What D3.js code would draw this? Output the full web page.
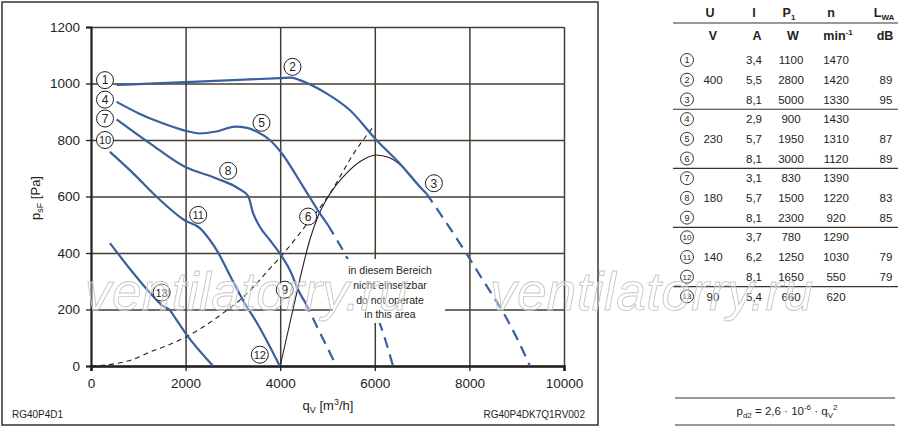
<!DOCTYPE html>
<html>
<head>
<meta charset="utf-8">
<script src="https://cdn.jsdelivr.net/npm/d3@7"></script>
<style>
  body { margin: 0; background: #fff; }
  svg { display: block; font-family: 'Liberation Sans', Arial, sans-serif; }
</style>
</head>
<body>
<div id="chart"></div>
<script>
// axis ticks
const qTicks = [0, 2000, 4000, 6000, 8000, 10000]
const pTicks = [0, 200, 400, 600, 800, 1000, 1200]

// fan curves [qV m3/h, psF Pa]
const curve123 = [[540, 995], [1000, 998], [2000, 1005], [3000, 1012], [4000, 1019], [4240, 1021], [4414, 1012], [4978, 965], [5470, 906], [6034, 800], [6526, 717], [7018, 623], [7090, 611]]
const curve123Dash = [[7090, 611], [7500, 510], [7934, 399], [8300, 300], [8640, 211], [9000, 100], [9280, 0]]
const curve456 = [[540, 935], [1000, 895], [1500, 860], [1950, 835], [2300, 823], [2650, 830], [3050, 847], [3300, 843], [3500, 830], [3780, 800], [4000, 760], [4485, 635], [4836, 541], [5010, 499]]
const curve456Dash = [[5010, 499], [5435, 376], [5770, 262], [6103, 152], [6385, 0]]
const curve789 = [[540, 873], [1246, 788], [1985, 705], [2654, 664], [3100, 630], [3323, 601], [3428, 541], [3569, 493], [3780, 446], [3991, 399], [4203, 340], [4414, 258], [4520, 228]]
const curve789Dash = [[4520, 228], [4850, 115], [5188, 0]]
const curve101112 = [[400, 758], [893, 682], [1387, 599], [1985, 515], [2302, 488], [2513, 446], [2654, 411], [3000, 300], [3288, 211], [3428, 175], [3991, 0]]
const curve13 = [[400, 435], [893, 329], [1316, 246], [1500, 215], [1668, 197], [1800, 165], [2020, 111], [2583, 0]]
// system line (dashed) and operating limit (solid black)
const systemLine = [[0, 0], [500, 8], [900, 24], [1250, 50], [1600, 72], [2000, 102], [2650, 170], [3350, 265], [3780, 345], [4000, 385], [4550, 499], [5000, 597], [5600, 764], [5950, 843]]
const limitLine = [[4000, 0], [4270, 200], [4414, 306], [4625, 446], [4800, 530], [5012, 599], [5400, 682], [5700, 725], [6034, 747], [6300, 738], [6526, 714], [6900, 645]]

// circled curve markers
const markerIds = [1, 2, 3, 4, 5, 6, 7, 8, 9, 10, 11, 12, 13]
const markerQ = [296, 4260, 7250, 296, 3605, 4590, 296, 2900, 4097, 296, 2266, 3569, 1493]
const markerP = [1012, 1059, 647, 943, 861, 529, 876, 691, 270, 800, 535, 40, 260]

// table
const volts = ['', '400', '', '', '230', '', '', '180', '', '', '140', '', '90']
const amps = ['3,4', '5,5', '8,1', '2,9', '5,7', '8,1', '3,1', '5,7', '8,1', '3,7', '6,2', '8,1', '5,4']
const watts = ['1100', '2800', '5000', '900', '1950', '3000', '830', '1500', '2300', '780', '1250', '1650', '660']
const speeds = ['1470', '1420', '1330', '1430', '1310', '1120', '1390', '1220', '920', '1290', '1030', '550', '620']
const noise = ['', '89', '95', '', '87', '89', '', '83', '85', '', '79', '79', '']

const W = 900
const H = 429
const ink = '#231f20'
const blue = '#3a5f9f'
const margin = { top: 27, left: 91, right: 336, bottom: 63 }
const width = W - margin.left - margin.right
const height = H - margin.top - margin.bottom

const root = d3
  .select('#chart')
  .append('svg')
  .attr('width', W)
  .attr('height', H)

// outer frame of the chart
root
  .append('rect')
  .attr('x', 2)
  .attr('y', 2)
  .attr('width', 596)
  .attr('height', 423)
  .attr('fill', 'none')
  .attr('stroke', '#3b3328')
  .attr('stroke-width', 1.5)

const svg = root
  .append('g')
  .attr('transform', 'translate(' + margin.left + ',' + margin.top + ')')

const x = d3.scaleLinear().domain([0, 10000]).range([0, width])
const y = d3.scaleLinear().domain([0, 1200]).range([height, 0])

// grid
svg
  .append('g')
  .attr('class', 'grid')
  .call(d3.axisLeft(y).tickValues(pTicks).tickSize(-width).tickFormat(''))
  .call(g => g.select('.domain').remove())
  .selectAll('line')
  .attr('stroke', '#463d33')
  .attr('stroke-width', 1.5)
svg
  .append('g')
  .attr('class', 'grid')
  .attr('transform', 'translate(0,' + height + ')')
  .call(d3.axisBottom(x).tickValues(qTicks).tickSize(-height).tickFormat(''))
  .call(g => g.select('.domain').remove())
  .selectAll('line')
  .attr('stroke', '#463d33')
  .attr('stroke-width', 1.5)

// axes
const yAxis = svg
  .append('g')
  .call(d3.axisLeft(y).tickValues(pTicks).tickFormat(d3.format('d')).tickSize(5).tickPadding(6))
yAxis.select('.domain').attr('stroke', ink).attr('stroke-width', 2)
yAxis.selectAll('line').attr('stroke', ink).attr('stroke-width', 1.3)
yAxis.selectAll('text').attr('font-size', 13.5).attr('fill', ink).attr('font-family', null)

const xAxis = svg
  .append('g')
  .attr('transform', 'translate(0,' + height + ')')
  .call(d3.axisBottom(x).tickValues(qTicks).tickFormat(d3.format('d')).tickSize(5).tickPadding(7))
xAxis.select('.domain').attr('stroke', ink).attr('stroke-width', 2.6)
xAxis.selectAll('line').attr('stroke', ink).attr('stroke-width', 1.3)
xAxis.selectAll('text').attr('font-size', 13.5).attr('fill', ink).attr('font-family', null)

// curves
const line = d3
  .line()
  .x(d => x(d[0]))
  .y(d => y(d[1]))
  .curve(d3.curveMonotoneX)

const curves = [
  [systemLine, ink, 1.1, '5,4'],
  [limitLine, ink, 1.1, null],
  [curve123, blue, 2.2, null],
  [curve123Dash, blue, 2.2, '11,7'],
  [curve456, blue, 2.2, null],
  [curve456Dash, blue, 2.2, '11,7'],
  [curve789, blue, 2.2, null],
  [curve789Dash, blue, 2.2, '11,7'],
  [curve101112, blue, 2.2, null],
  [curve13, blue, 2.2, null]
]
svg
  .selectAll('path.curve')
  .data(curves)
  .enter()
  .append('path')
  .attr('class', 'curve')
  .attr('d', d => line(d[0]))
  .attr('fill', 'none')
  .attr('stroke', d => d[1])
  .attr('stroke-width', d => d[2])
  .attr('stroke-dasharray', d => d[3])

// "do not operate" box
const note = svg.append('g')
note
  .append('rect')
  .attr('x', 242)
  .attr('y', 232)
  .attr('width', 112)
  .attr('height', 64)
  .attr('fill', '#fff')
note
  .selectAll('text')
  .data(['in diesem Bereich', 'nicht einsetzbar', 'do not operate', 'in this area'])
  .enter()
  .append('text')
  .text(d => d)
  .attr('x', 299)
  .attr('y', (d, i) => 247 + i * 14.8)
  .attr('text-anchor', 'middle')
  .attr('font-size', 10.5)
  .attr('fill', ink)

// circled markers
const markers = svg
  .selectAll('g.marker')
  .data(markerIds)
  .enter()
  .append('g')
  .attr('class', 'marker')
  .attr('transform', (d, i) => 'translate(' + x(markerQ[i]) + ',' + y(markerP[i]) + ')')
markers
  .append('circle')
  .attr('r', 8.5)
  .attr('fill', '#fff')
  .attr('stroke', ink)
  .attr('stroke-width', 1)
markers
  .append('text')
  .text(d => d)
  .attr('text-anchor', 'middle')
  .attr('dy', '0.36em')
  .attr('font-size', d => (d > 9 ? 11 : 12))
  .attr('fill', ink)

// axis titles
const yTitle = root
  .append('text')
  .attr('transform', 'translate(40,198) rotate(-90)')
  .attr('text-anchor', 'middle')
  .attr('font-size', 13)
  .attr('fill', ink)
yTitle.append('tspan').text('p')
yTitle.append('tspan').text('sF').attr('font-size', 9).attr('dy', 3)
yTitle.append('tspan').text(' [Pa]').attr('dy', -3)

const xTitle = root
  .append('text')
  .attr('x', 328)
  .attr('y', 410)
  .attr('text-anchor', 'middle')
  .attr('font-size', 13)
  .attr('fill', ink)
xTitle.append('tspan').text('q')
xTitle.append('tspan').text('V').attr('font-size', 9).attr('dy', 3)
xTitle.append('tspan').text(' [m').attr('dy', -3)
xTitle.append('tspan').text('3').attr('font-size', 9).attr('dy', -5)
xTitle.append('tspan').text('/h]').attr('dy', 5)

root
  .append('text')
  .text('RG40P4D1')
  .attr('x', 12)
  .attr('y', 418)
  .attr('font-size', 10)
  .attr('fill', ink)
root
  .append('text')
  .text('RG40P4DK7Q1RV002')
  .attr('x', 585)
  .attr('y', 418)
  .attr('text-anchor', 'end')
  .attr('font-size', 10)
  .attr('fill', ink)

// table on the right
const table = root.append('g')
const colX = { id: 687, u: 713, i: 754, p: 791, n: 836, l: 886 }
const rowY = i => 60 + i * 19.7

const head1 = table
  .append('g')
  .attr('font-size', 12.5)
  .attr('font-weight', 'bold')
  .attr('fill', ink)
  .attr('text-anchor', 'middle')
head1.append('text').attr('x', colX.u - 3).attr('y', 17).text('U')
head1.append('text').attr('x', colX.i).attr('y', 17).text('I')
const pHead = head1.append('text').attr('x', colX.p - 2).attr('y', 17)
pHead.append('tspan').text('P')
pHead.append('tspan').text('1').attr('font-size', 8).attr('dy', 3)
head1.append('text').attr('x', colX.n - 5).attr('y', 17).text('n')
const lHead = head1.append('text').attr('x', colX.l - 2).attr('y', 17)
lHead.append('tspan').text('L')
lHead.append('tspan').text('WA').attr('font-size', 8).attr('dy', 3)

head1.append('text').attr('x', colX.u).attr('y', 40).text('V')
head1.append('text').attr('x', colX.i + 3).attr('y', 40).text('A')
head1.append('text').attr('x', colX.p + 2).attr('y', 40).text('W')
const minHead = head1.append('text').attr('x', colX.n + 2).attr('y', 40)
minHead.append('tspan').text('min')
minHead.append('tspan').text('-1').attr('font-size', 8).attr('dy', -5)
head1.append('text').attr('x', colX.l - 1).attr('y', 40).text('dB')

const rules = [23, rowY(2.5), rowY(5.5), rowY(8.5), rowY(11.5)]
table
  .selectAll('line.rule')
  .data(rules)
  .enter()
  .append('line')
  .attr('class', 'rule')
  .attr('x1', 673)
  .attr('x2', 898)
  .attr('y1', d => d)
  .attr('y2', d => d)
  .attr('stroke', '#3b3328')
  .attr('stroke-width', 1.2)

const rows = table
  .selectAll('g.row')
  .data(markerIds)
  .enter()
  .append('g')
  .attr('class', 'row')
  .attr('transform', (d, i) => 'translate(0,' + rowY(i) + ')')
rows
  .append('circle')
  .attr('cx', colX.id)
  .attr('r', 6.5)
  .attr('fill', '#fff')
  .attr('stroke', ink)
  .attr('stroke-width', 0.9)
rows
  .append('text')
  .attr('x', colX.id)
  .attr('dy', '0.35em')
  .attr('text-anchor', 'middle')
  .attr('font-size', d => (d > 9 ? 8 : 9))
  .attr('fill', ink)
  .text(d => d)

const cols = [
  [colX.u, volts],
  [colX.i, amps],
  [colX.p, watts],
  [colX.n, speeds],
  [colX.l, noise]
]
cols.forEach(c => {
  rows
    .append('text')
    .attr('x', c[0])
    .attr('dy', '0.36em')
    .attr('text-anchor', 'middle')
    .attr('font-size', 11.5)
    .attr('fill', ink)
    .text((d, i) => c[1][i])
})

// formula box
table
  .selectAll('line.frule')
  .data([398, 425])
  .enter()
  .append('line')
  .attr('class', 'frule')
  .attr('x1', 675)
  .attr('x2', 895)
  .attr('y1', d => d)
  .attr('y2', d => d)
  .attr('stroke', '#3b3328')
  .attr('stroke-width', 1.2)
const formula = table
  .append('text')
  .attr('x', 787)
  .attr('y', 415)
  .attr('text-anchor', 'middle')
  .attr('font-size', 11.5)
  .attr('fill', ink)
formula.append('tspan').text('p')
formula.append('tspan').text('d2').attr('font-size', 8).attr('dy', 3)
formula.append('tspan').text(' = 2,6 · 10').attr('dy', -3)
formula.append('tspan').text('-6').attr('font-size', 8).attr('dy', -5)
formula.append('tspan').text(' · q').attr('dy', 5)
formula.append('tspan').text('V').attr('font-size', 8).attr('dy', 3)
formula.append('tspan').text('2').attr('font-size', 8).attr('dy', -8)

// watermark
root
  .selectAll('text.wm')
  .data([85, 490])
  .enter()
  .append('text')
  .attr('class', 'wm')
  .text('ventilatorry.ru')
  .attr('x', d => d)
  .attr('y', 310)
  .attr('font-size', 53)
  .attr('font-style', 'italic')
  .attr('textLength', 323)
  .attr('fill', 'rgba(255,255,255,0.35)')
  .attr('stroke', '#c6c6c6')
  .attr('stroke-width', 0.9)
</script>
</body>
</html>
